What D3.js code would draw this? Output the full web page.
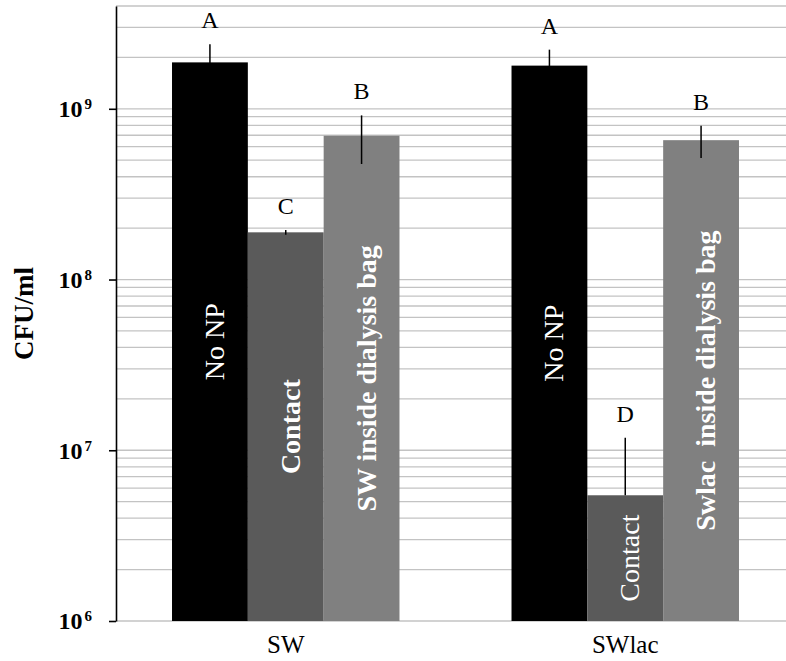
<!DOCTYPE html>
<html>
<head>
<meta charset="utf-8">
<script src="https://cdn.jsdelivr.net/npm/d3@7"></script>
<style>
  html, body { margin: 0; padding: 0; background: #fff; }
  svg { display: block; }
  text { font-family: "Liberation Serif", "Times New Roman", Times, serif; }
</style>
</head>
<body>
<svg id="chart" width="786" height="661"></svg>
<script>
// ---- data ----
const groups = ["SW", "SWlac"];
const series = ["No NP", "Contact", "Inside dialysis bag"];
const valuesSW = [1.87e9, 1.89e8, 6.95e8];
const valuesSWlac = [1.79e9, 5.45e6, 6.55e8];
const errorSW = [0.52e9, 0.06e8, 2.2e8];
const errorSWlac = [0.43e9, 6.4e6, 1.4e8];
const lettersSW = ["A", "C", "B"];
const lettersSWlac = ["A", "D", "B"];
const barLabelsSW = ["No NP", "Contact", "SW inside dialysis bag"];
const barLabelsSWlac = ["No NP", "Contact", "Swlac  inside dialysis bag"];
const yTickValues = [1e6, 1e7, 1e8, 1e9];
const yTickExponents = ["6", "7", "8", "9"];
const yTitle = "CFU/ml";

// ---- styles ----
const colors = ["#000000", "#5a5a5a", "#808080"];
const labelWeights = {
  "SW": ["normal", "bold", "bold"],
  "SWlac": ["normal", "normal", "bold"]
};

const rows = groups.map((g, gi) => ({
  group: g,
  bars: series.map((s, si) => ({
    group: g,
    series: s,
    si,
    value: [valuesSW, valuesSWlac][gi][si],
    err: [errorSW, errorSWlac][gi][si],
    letter: [lettersSW, lettersSWlac][gi][si],
    label: [barLabelsSW, barLabelsSWlac][gi][si],
    weight: labelWeights[g][si]
  }))
}));

const svg = d3.select("#chart");
const mLeft = 116, mRight = 795, mTop = 6, mBottom = 621;

const y = d3.scaleLog().domain([1e6, 4e9]).range([mBottom, mTop]);
const x0 = d3.scaleBand().domain(groups).range([mLeft, mRight])
  .paddingInner(0.33).paddingOuter(0.165);
const x1 = d3.scaleBand().domain(series).range([0, x0.bandwidth()]).padding(0);

// gridlines
svg.append("g").selectAll("line")
  .data(y.ticks())
  .join("line")
  .attr("x1", mLeft).attr("x2", 786)
  .attr("y1", d => y(d)).attr("y2", d => y(d))
  .attr("stroke", "#c3c3c3")
  .attr("stroke-width", 1.3);

// bars
const gGroups = svg.append("g").selectAll("g")
  .data(rows)
  .join("g")
  .attr("transform", d => `translate(${x0(d.group)},0)`);

gGroups.selectAll("rect")
  .data(d => d.bars)
  .join("rect")
  .attr("x", d => x1(d.series))
  .attr("width", x1.bandwidth())
  .attr("y", d => y(d.value))
  .attr("height", d => y(1e6) - y(d.value))
  .attr("fill", d => colors[d.si]);

// error bars
gGroups.selectAll("line.err")
  .data(d => d.bars)
  .join("line")
  .attr("class", "err")
  .attr("x1", d => x1(d.series) + x1.bandwidth() / 2)
  .attr("x2", d => x1(d.series) + x1.bandwidth() / 2)
  .attr("y1", d => y(d.value + d.err))
  .attr("y2", d => (d.value - d.err > 0) ? y(d.value - d.err) : y(d.value))
  .attr("stroke", "#000")
  .attr("stroke-width", 1.5);

// significance letters
gGroups.selectAll("text.letter")
  .data(d => d.bars)
  .join("text")
  .attr("class", "letter")
  .attr("x", d => x1(d.series) + x1.bandwidth() / 2)
  .attr("y", d => y(d.value + d.err) - 16)
  .attr("text-anchor", "middle")
  .attr("font-size", 24)
  .attr("fill", "#000")
  .text(d => d.letter);

// bar labels (rotated, white)
gGroups.selectAll("text.barlabel")
  .data(d => d.bars)
  .join("text")
  .attr("class", "barlabel")
  .attr("transform", d => {
    const cx = x1(d.series) + x1.bandwidth() / 2;
    const cy = (y(d.value) + y(1e6)) / 2;
    return `translate(${cx},${cy}) rotate(-90)`;
  })
  .attr("text-anchor", "middle")
  .attr("dy", "0.5em")
  .attr("font-size", 28)
  .attr("font-weight", d => d.weight)
  .attr("fill", "#fff")
  .style("white-space", "pre")
  .text(d => d.label);

// y axis
const yAxis = d3.axisLeft(y)
  .tickValues(yTickValues)
  .tickSize(7)
  .tickSizeOuter(0)
  .tickPadding(17)
  .tickFormat(() => "");

const gy = svg.append("g")
  .attr("transform", `translate(${mLeft},0)`)
  .call(yAxis);
gy.select(".domain").attr("stroke", "#000").attr("stroke-width", 1.6);
gy.selectAll(".tick line").attr("stroke", "#000").attr("stroke-width", 1.6);
gy.selectAll(".tick text").each(function(d) {
  const t = d3.select(this);
  t.text(null)
    .attr("font-family", "'Liberation Serif', 'Times New Roman', serif")
    .attr("font-size", 24)
    .attr("font-weight", "bold")
    .attr("fill", "#000")
    .attr("dy", "0.33em");
  t.append("tspan").text("10");
  t.append("tspan")
    .attr("font-size", 15)
    .attr("dx", 2)
    .attr("dy", -8)
    .text(yTickExponents[yTickValues.indexOf(d)]);
});

// y title
svg.append("text")
  .attr("transform", `translate(33,${(mTop + mBottom) / 2}) rotate(-90)`)
  .attr("text-anchor", "middle")
  .attr("font-size", 27)
  .attr("font-weight", "bold")
  .attr("fill", "#000")
  .text(yTitle);

// x category labels
svg.append("g").selectAll("text")
  .data(groups)
  .join("text")
  .attr("x", d => x0(d) + x0.bandwidth() / 2)
  .attr("y", 653)
  .attr("text-anchor", "middle")
  .attr("font-size", 25)
  .attr("fill", "#000")
  .text(d => d);
</script>
</body>
</html>
